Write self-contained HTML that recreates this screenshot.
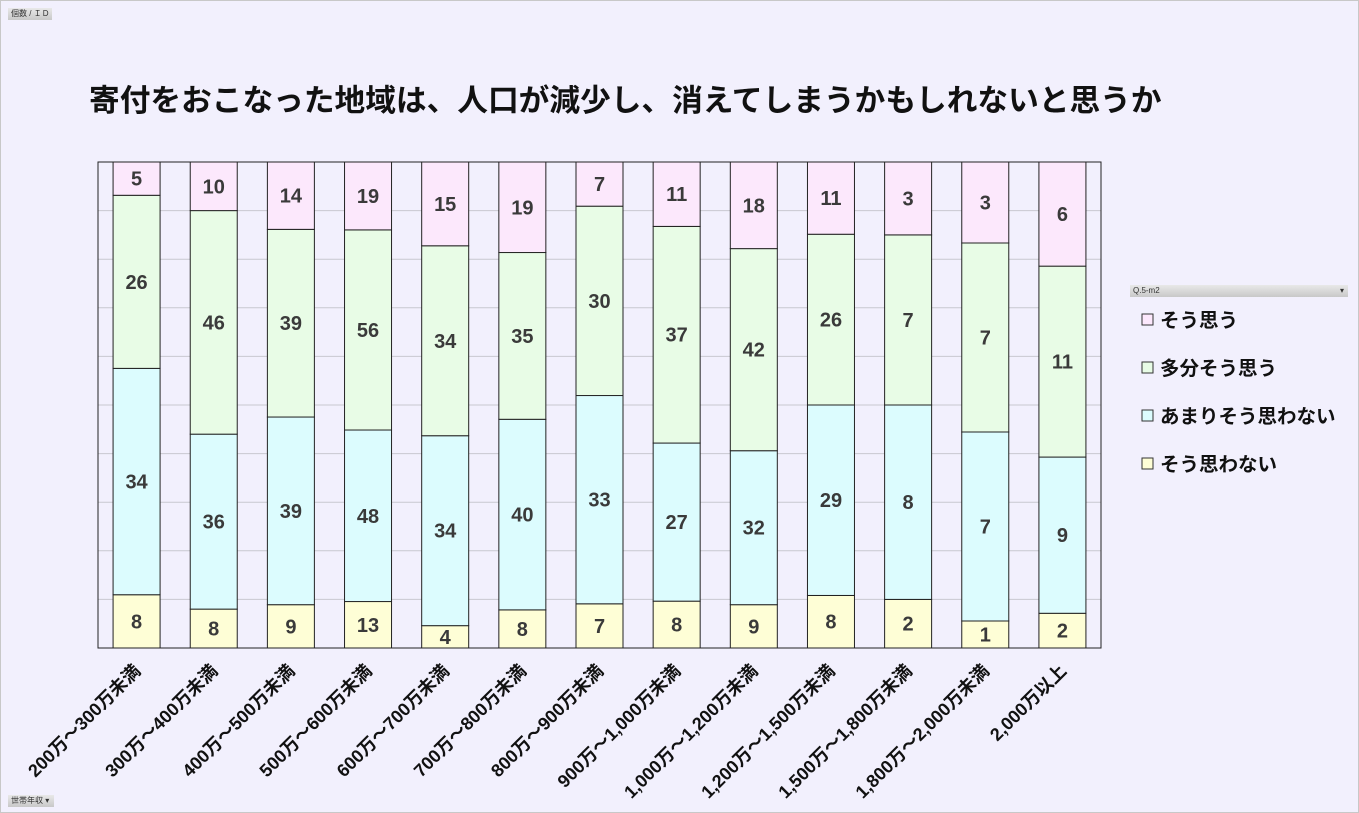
<!DOCTYPE html>
<html><head><meta charset="utf-8"><style>
body{margin:0;width:1359px;height:813px;overflow:hidden;background:#f2f0fd;font-family:"Liberation Sans","Noto Sans CJK JP",sans-serif;}
#frame{position:absolute;left:0;top:0;width:1357px;height:811px;border:1px solid #c8c8c8;}
.btn{position:absolute;background:linear-gradient(#e8e8e8,#c8c8c8);font-size:8px;color:#333;line-height:12px;padding-left:3px;box-sizing:border-box;}
</style></head><body>
<div id="frame"></div>
<div class="btn" style="left:8px;top:8px;width:44px;height:12px;">個数 / ＩＤ</div>
<div class="btn" style="left:8px;top:795px;width:46px;height:12px;">世帯年収 ▾</div>
<div class="btn" style="left:1130px;top:285px;width:218px;height:12px;">Q.5-m2<span style="position:absolute;right:4px;">▾</span></div>
<div style="position:absolute;left:89px;top:75px;font-size:30.7px;font-weight:bold;color:#111;white-space:nowrap;">寄付をおこなった地域は、人口が減少し、消えてしまうかもしれないと思うか</div>
<svg id="chart" width="1359" height="813" style="position:absolute;left:0;top:0;"></svg>
<script>
const categories=["200万～300万未満","300万～400万未満","400万～500万未満","500万～600万未満","600万～700万未満","700万～800万未満","800万～900万未満","900万～1,000万未満","1,000万～1,200万未満","1,200万～1,500万未満","1,500万～1,800万未満","1,800万～2,000万未満","2,000万以上"];
const seriesNames=["そう思わない","あまりそう思わない","多分そう思う","そう思う"];
const soOmowanai=[8,8,9,13,4,8,7,8,9,8,2,1,2];
const amariOmowanai=[34,36,39,48,34,40,33,27,32,29,8,7,9];
const tabunOmou=[26,46,39,56,34,35,30,37,42,26,7,7,11];
const soOmou=[5,10,14,19,15,19,7,11,18,11,3,3,6];
const series=[soOmowanai,amariOmowanai,tabunOmou,soOmou];
const colors=["#fefed6","#dcfcfe","#e8fce6","#fce8fc"];
const NS="http://www.w3.org/2000/svg";
const svg=document.getElementById('chart');
const L=98,R=1101,T=162,B=648,band=(R-L)/categories.length,bw=47;
const yScale=p=>B-p*(B-T);
const xCenter=i=>L+band*(i+0.5);
function mk(tag,attrs){const e=document.createElementNS(NS,tag);for(const k in attrs)e.setAttribute(k,attrs[k]);svg.appendChild(e);return e;}
for(let g=1;g<10;g++){const y=yScale(g/10);
const ln=mk('line',{x1:L,x2:R,y1:y,y2:y,stroke:'#c8c8d0','stroke-width':1});

}
categories.forEach((c,i)=>{
 const tot=series.reduce((s,a)=>s+a[i],0);let cum=0;
 series.forEach((a,si)=>{
  const y0=yScale(cum/tot),y1=yScale((cum+a[i])/tot);cum+=a[i];
  const r=mk('rect',{x:xCenter(i)-bw/2,y:y1,width:bw,height:y0-y1,fill:colors[si],stroke:'#222','stroke-width':1});
  
  
  const t=mk('text',{x:xCenter(i),y:(y0+y1)/2+7,'text-anchor':'middle','font-size':20,'font-weight':'bold',fill:'#3a3a3a'});
  t.textContent=a[i];
  
  
 });
 const cx=xCenter(i)+5,cy=672;
 const lb=mk('text',{x:cx,y:cy,'text-anchor':'end','font-size':18,'font-weight':'bold',fill:'#111',transform:`rotate(-45 ${cx} ${cy})`});
 lb.textContent=c;
 
 
});
const fr=mk('rect',{x:L,y:T,width:R-L,height:B-T,fill:'none',stroke:'#222','stroke-width':1});


const legendOrder=[3,2,1,0];
legendOrder.forEach((si,k)=>{
 const y=320+k*48;
 const sq=mk('rect',{x:1142,y:y-6,width:11,height:11,fill:colors[si],stroke:'#333','stroke-width':1});
 
 
 const t=mk('text',{x:1160,y:y+7,'font-size':19.5,'font-weight':'bold',fill:'#111'});
 t.textContent=seriesNames[si];
 
 
});
</script>
</body></html>
